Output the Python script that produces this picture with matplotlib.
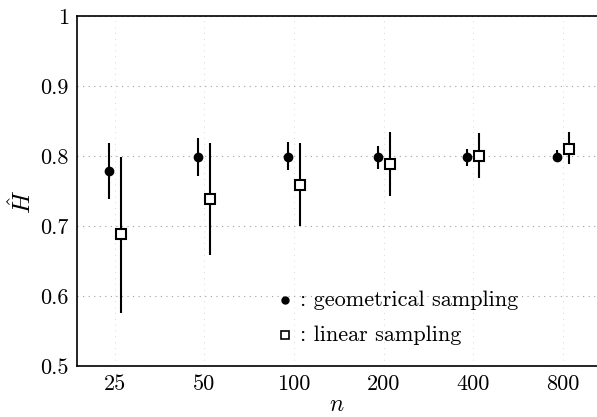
import matplotlib
matplotlib.use("Agg")
import matplotlib.pyplot as plt
import numpy as np

plt.rcParams['font.family'] = ['cmr10', 'DejaVu Serif']
plt.rcParams['mathtext.fontset'] = 'cm'
plt.rcParams['axes.unicode_minus'] = False
plt.rcParams['axes.formatter.use_mathtext'] = True

categories = ["25", "50", "100", "200", "400", "800"]
geo_val = [0.778, 0.798, 0.799, 0.798, 0.799, 0.799]
geo_lo = [0.738, 0.772, 0.780, 0.782, 0.785, 0.793]
geo_hi = [0.818, 0.826, 0.820, 0.814, 0.810, 0.808]
lin_val = [0.688, 0.738, 0.758, 0.788, 0.800, 0.810]
lin_lo = [0.576, 0.658, 0.700, 0.743, 0.768, 0.788]
lin_hi = [0.798, 0.818, 0.818, 0.834, 0.833, 0.834]

fig = plt.figure(figsize=(5.97, 4.17), dpi=100)
ax = fig.add_axes([0.129, 0.122, 0.871, 0.840])

x = np.arange(len(categories))
off = 0.067

ax.vlines(x - off, geo_lo, geo_hi, color='black', lw=1.5, zorder=3)
ax.plot(x - off, geo_val, 'o', color='black', ms=6, zorder=4)
ax.vlines(x + off, lin_lo, lin_hi, color='black', lw=1.5, zorder=3)
ax.plot(x + off, lin_val, 's', mfc='white', mec='black', mew=1.5, ms=6.5, zorder=4)

ax.set_xlim(-0.42, 5.38)
ax.set_ylim(0.5, 1.0)
ax.set_xticks(x)
ax.set_xticklabels(categories)
ax.set_yticks([0.5, 0.6, 0.7, 0.8, 0.9, 1.0])
ax.set_yticklabels(["0.5", "0.6", "0.7", "0.8", "0.9", "1"])
ax.tick_params(length=0, labelsize=16, pad=6)
ax.yaxis.grid(True, color='#a0a0a0', linestyle=(0, (1, 4)), lw=0.8)
ax.xaxis.grid(True, color='#d8d8d8', linestyle=(0, (1, 5)), lw=0.7)
ax.set_axisbelow(True)
ax.spines['right'].set_visible(False)
for s in ['left', 'top', 'bottom']:
    ax.spines[s].set_linewidth(1.2)

ax.set_xlabel(r'$n$', fontsize=17, labelpad=0)
ax.set_ylabel(r'$\hat{H}$', fontsize=18)
ax.yaxis.set_label_coords(-0.078, 0.47)

ax.plot([0.40], [0.189], 'o', color='black', ms=5, transform=ax.transAxes, clip_on=False)
ax.text(0.428, 0.189, ": geometrical sampling", transform=ax.transAxes, fontsize=16, va='center')
ax.plot([0.40], [0.089], 's', mfc='white', mec='black', mew=1.2, ms=5.5, transform=ax.transAxes, clip_on=False)
ax.text(0.428, 0.089, ": linear sampling", transform=ax.transAxes, fontsize=16, va='center')

fig.savefig("out.png", dpi=100)
